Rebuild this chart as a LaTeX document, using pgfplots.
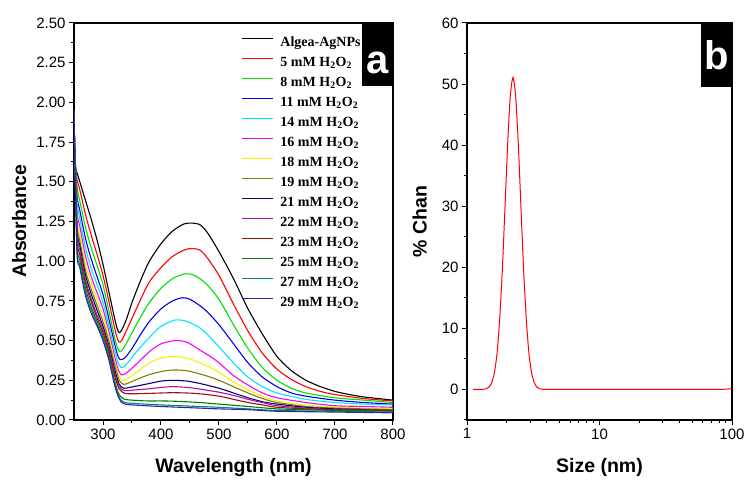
\documentclass[border=0pt]{standalone}
\usepackage{pgfplots}
\pgfplotsset{compat=1.18}
\usepackage{fontspec}
\setmainfont{Liberation Sans}
\newfontfamily\legfont{Liberation Serif}
\usepackage{xcolor}
\definecolor{cgreen}{RGB}{0,225,0}
\definecolor{cblue}{RGB}{0,0,235}
\definecolor{ccyan}{RGB}{0,230,250}
\definecolor{cmag}{RGB}{250,0,250}
\definecolor{cyel}{RGB}{245,240,0}
\definecolor{cdyel}{RGB}{128,128,0}
\definecolor{cnavy}{RGB}{0,0,128}
\definecolor{cpurp}{RGB}{170,20,170}
\definecolor{cwine}{RGB}{160,16,16}
\definecolor{cdgreen}{RGB}{0,128,0}
\definecolor{cdcyan}{RGB}{0,128,128}
\definecolor{croyal}{RGB}{40,40,168}

\pgfplotsset{
  panel/.style={
    scale only axis,
    axis line style={line width=1.2pt},
    tick style={line width=1pt, black},
    tick align=outside,
    xtick pos=lower, ytick pos=left,
    major tick length=5pt, minor tick length=3pt,
    tick label style={font=\fontsize{15}{18}\selectfont},
    label style={font=\bfseries\fontsize{19.5}{22}\selectfont},
    /pgf/number format/assume math mode=true,
  },
}
\newcommand{\HO}{mM H\textsubscript{2}O\textsubscript{2}}

\begin{document}
\begin{tikzpicture}
\useasboundingbox (0,0) rectangle (755pt,495pt);

% (a) UV-vis spectra
\begin{axis}[panel,
  at={(74pt,75pt)}, anchor=south west,
  width=319pt, height=397pt,
  xmin=250, xmax=800, ymin=0, ymax=2.5,
  xtick={300,400,...,800}, minor x tick num=1,
  ytick={0,0.25,...,2.5}, minor y tick num=1,
  yticklabel style={/pgf/number format/.cd, fixed, fixed zerofill, precision=2},
  xlabel={Wavelength (nm)}, ylabel={Absorbance},
  xlabel style={yshift=-12pt}, ylabel shift=3pt,
  every axis plot/.append style={line width=1.1pt},
  legend style={draw=none, fill=none, inner sep=0pt,
    at={(0.5235,0.97)}, anchor=north west,
    font=\legfont\bfseries\fontsize{14}{16}\selectfont,
    nodes={inner sep=0pt, text height=11pt, text depth=4pt},
    row sep=5pt},
  legend cell align=left,
  legend image code/.code={\draw[#1, sharp plot, line width=1.5pt] (0pt,4pt) -- (31pt,4pt); \path (38pt,0pt);},
]
\addplot[black, smooth, tension=0.45] coordinates {(250,1.62)(255,1.56)(260,1.50)(270,1.38)(280,1.26)(290,1.13)(300,0.98)(310,0.81)(320,0.64)(325,0.57)(328,0.55)(332,0.565)(340,0.63)(350,0.74)(365,0.88)(380,1.00)(400,1.11)(420,1.19)(440,1.235)(453,1.24)(467,1.23)(480,1.18)(500,1.06)(525,0.89)(550,0.70)(575,0.54)(600,0.40)(625,0.31)(650,0.25)(675,0.21)(700,0.18)(725,0.16)(750,0.145)(775,0.135)(800,0.125)};
\addlegendentry{Algea-AgNPs}
\addplot[red, smooth, tension=0.45] coordinates {(250,1.70)(255,1.52)(260,1.45)(270,1.29)(280,1.16)(290,1.04)(300,0.91)(310,0.75)(320,0.58)(325,0.51)(328,0.49)(332,0.50)(340,0.56)(350,0.64)(365,0.76)(380,0.87)(400,0.96)(420,1.03)(440,1.07)(452,1.08)(467,1.07)(480,1.02)(500,0.91)(525,0.73)(550,0.56)(575,0.42)(600,0.32)(625,0.255)(650,0.21)(675,0.18)(700,0.16)(750,0.135)(800,0.12)};
\addlegendentry{5 \HO}
\addplot[cgreen, smooth, tension=0.45] coordinates {(250,1.75)(255,1.48)(260,1.38)(270,1.21)(280,1.08)(290,0.97)(300,0.85)(310,0.69)(320,0.52)(325,0.455)(329,0.43)(333,0.44)(340,0.48)(350,0.55)(365,0.65)(380,0.74)(400,0.83)(420,0.89)(440,0.92)(455,0.915)(467,0.89)(480,0.85)(500,0.76)(525,0.60)(550,0.45)(575,0.33)(600,0.25)(625,0.20)(650,0.17)(700,0.14)(750,0.125)(800,0.11)};
\addlegendentry{8 \HO}
\addplot[cblue, smooth, tension=0.45] coordinates {(250,1.80)(255,1.42)(260,1.32)(270,1.14)(280,1.01)(290,0.90)(300,0.79)(310,0.64)(320,0.48)(326,0.40)(330,0.38)(335,0.385)(340,0.40)(350,0.45)(365,0.54)(380,0.62)(400,0.70)(420,0.75)(437,0.77)(450,0.76)(467,0.72)(480,0.68)(500,0.60)(525,0.48)(550,0.36)(575,0.27)(600,0.21)(625,0.17)(650,0.15)(700,0.125)(750,0.11)(800,0.10)};
\addlegendentry{11 \HO}
\addplot[ccyan, smooth, tension=0.45] coordinates {(250,1.82)(255,1.38)(260,1.27)(270,1.08)(280,0.95)(290,0.85)(300,0.74)(310,0.60)(320,0.44)(326,0.36)(331,0.33)(336,0.335)(345,0.37)(360,0.44)(380,0.52)(400,0.59)(425,0.63)(445,0.62)(467,0.58)(485,0.52)(500,0.46)(525,0.36)(550,0.27)(575,0.21)(600,0.17)(650,0.13)(700,0.11)(750,0.10)(800,0.095)};
\addlegendentry{14 \HO}
\addplot[cmag, smooth, tension=0.45] coordinates {(250,1.85)(255,1.33)(260,1.22)(270,1.03)(280,0.90)(290,0.80)(300,0.70)(310,0.56)(320,0.40)(327,0.31)(332,0.285)(338,0.29)(345,0.31)(360,0.36)(380,0.43)(400,0.48)(425,0.50)(445,0.49)(467,0.44)(485,0.40)(500,0.36)(525,0.28)(550,0.22)(575,0.17)(600,0.14)(650,0.11)(700,0.09)(750,0.085)(800,0.08)};
\addlegendentry{16 \HO}
\addplot[cyel, smooth, tension=0.45] coordinates {(250,1.85)(255,1.28)(260,1.17)(270,0.98)(280,0.86)(290,0.76)(300,0.66)(310,0.53)(320,0.37)(328,0.27)(334,0.25)(340,0.255)(350,0.28)(365,0.32)(380,0.36)(400,0.39)(421,0.40)(445,0.39)(467,0.36)(485,0.33)(500,0.30)(525,0.24)(550,0.19)(575,0.15)(600,0.12)(650,0.095)(700,0.08)(750,0.075)(800,0.07)};
\addlegendentry{18 \HO}
\addplot[cdyel, smooth, tension=0.45] coordinates {(250,1.88)(255,1.25)(260,1.13)(270,0.94)(280,0.82)(290,0.72)(300,0.62)(310,0.50)(320,0.35)(328,0.25)(335,0.225)(342,0.23)(355,0.25)(375,0.28)(400,0.305)(421,0.315)(445,0.31)(467,0.29)(485,0.27)(500,0.25)(525,0.21)(550,0.17)(575,0.135)(600,0.11)(650,0.085)(700,0.075)(750,0.07)(800,0.065)};
\addlegendentry{19 \HO}
\addplot[cnavy, smooth, tension=0.45] coordinates {(250,1.90)(255,1.22)(260,1.10)(270,0.91)(280,0.79)(290,0.69)(300,0.59)(310,0.47)(320,0.32)(328,0.225)(336,0.20)(345,0.205)(360,0.215)(380,0.23)(400,0.245)(421,0.25)(445,0.245)(467,0.23)(500,0.20)(525,0.17)(550,0.14)(575,0.115)(600,0.10)(650,0.08)(700,0.07)(800,0.06)};
\addlegendentry{21 \HO}
\addplot[cpurp, smooth, tension=0.45] coordinates {(250,1.90)(255,1.19)(260,1.07)(270,0.88)(280,0.76)(290,0.66)(300,0.57)(310,0.45)(320,0.30)(328,0.21)(337,0.185)(350,0.188)(375,0.195)(400,0.205)(421,0.21)(445,0.205)(467,0.195)(500,0.175)(525,0.155)(550,0.13)(575,0.11)(600,0.09)(650,0.075)(700,0.065)(800,0.06)};
\addlegendentry{22 \HO}
\addplot[cwine, smooth, tension=0.45] coordinates {(250,1.92)(255,1.16)(260,1.04)(270,0.86)(280,0.74)(290,0.64)(300,0.55)(310,0.43)(320,0.28)(328,0.195)(338,0.168)(350,0.165)(375,0.167)(400,0.17)(421,0.172)(445,0.17)(467,0.165)(500,0.15)(525,0.13)(550,0.11)(575,0.095)(600,0.08)(650,0.07)(700,0.065)(800,0.06)};
\addlegendentry{23 \HO}
\addplot[cdgreen, smooth, tension=0.45] coordinates {(250,1.93)(255,1.12)(260,1.01)(270,0.83)(280,0.71)(290,0.62)(300,0.53)(310,0.41)(320,0.25)(326,0.175)(331,0.145)(338,0.13)(350,0.125)(375,0.12)(400,0.12)(425,0.118)(467,0.11)(500,0.10)(550,0.085)(600,0.07)(650,0.065)(700,0.06)(800,0.055)};
\addlegendentry{25 \HO}
\addplot[cdcyan, smooth, tension=0.45] coordinates {(250,1.95)(255,1.09)(260,0.98)(270,0.80)(280,0.69)(290,0.60)(300,0.51)(310,0.39)(320,0.23)(326,0.16)(331,0.125)(338,0.11)(350,0.105)(400,0.095)(467,0.085)(500,0.08)(550,0.07)(600,0.06)(700,0.055)(800,0.05)};
\addlegendentry{27 \HO}
\addplot[croyal, smooth, tension=0.45] coordinates {(250,1.95)(255,1.07)(260,0.96)(270,0.78)(280,0.67)(290,0.59)(300,0.50)(310,0.38)(320,0.22)(326,0.15)(331,0.115)(338,0.10)(350,0.095)(400,0.085)(467,0.075)(500,0.07)(550,0.065)(600,0.055)(700,0.05)(800,0.045)};
\addlegendentry{29 \HO}
\node[fill=black, minimum width=31pt, minimum height=63pt, inner sep=0pt, anchor=north east] (A) at (rel axis cs:1,1) {};
\node[text=white, font=\bfseries\fontsize{40}{40}\selectfont, inner sep=0pt, anchor=base] at ([yshift=13pt]A.south) {a};
\end{axis}

% (b) size distribution
\begin{axis}[panel,
  at={(467pt,75pt)}, anchor=south west,
  width=265pt, height=397pt,
  xmode=log, xmin=1, xmax=100, ymin=-5, ymax=60,
  xtick={1,10,100}, xticklabels={1,10,100},
  ytick={0,10,...,60}, minor ytick={-5,5,15,...,55},
  xlabel={Size (nm)}, ylabel={\% Chan},
  xlabel style={yshift=-12pt}, ylabel shift=8pt,
]
\addplot[red, line width=1pt, smooth, tension=0.4] coordinates {(1.11,0)(1.2,0)(1.279,0.01)(1.340,0.04)(1.403,0.13)(1.469,0.41)(1.538,1.14)(1.611,2.77)(1.687,6.0)(1.766,11.6)(1.849,19.7)(1.936,29.9)(2.028,40.3)(2.123,48.1)(2.223,51.1)(2.328,48.1)(2.438,40.3)(2.553,29.9)(2.673,19.7)(2.799,11.6)(2.931,6.0)(3.069,2.77)(3.214,1.14)(3.365,0.41)(3.524,0.13)(3.690,0.04)(3.864,0.01)(4.2,0)(6,0)(10,0)(20,0)(50,0)(80,0)(90,0.05)(100,0.15)};
\node[fill=black, minimum width=31pt, minimum height=64pt, inner sep=0pt, anchor=north east] (B) at (rel axis cs:1,1) {};
\node[text=white, font=\bfseries\fontsize{40}{40}\selectfont, inner sep=0pt, anchor=base] at ([yshift=18pt]B.south) {b};
\end{axis}
\end{tikzpicture}
\end{document}
